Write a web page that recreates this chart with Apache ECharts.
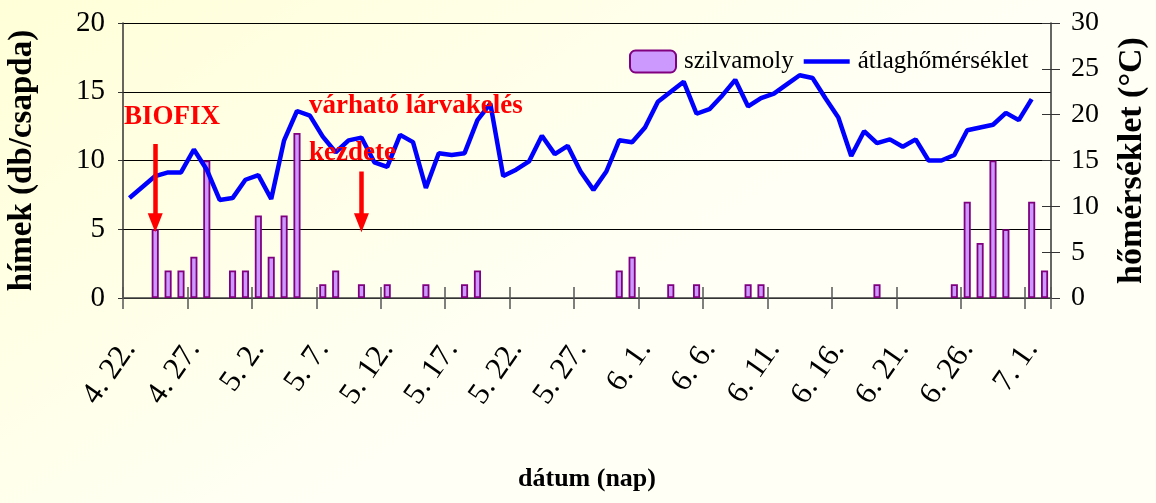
<!DOCTYPE html>
<html><head><meta charset="utf-8">
<script src="https://cdn.jsdelivr.net/npm/echarts@6/dist/echarts.min.js"></script>
<style>html,body{margin:0;padding:0;background:#fff;}#c{width:1156px;height:503px;}</style>
</head><body><div id="c"></div>
<script>
const categories = [
 "4. 22.","4. 23.","4. 24.","4. 25.","4. 26.","4. 27.","4. 28.","4. 29.","4. 30.",
 "5. 1.","5. 2.","5. 3.","5. 4.","5. 5.","5. 6.","5. 7.","5. 8.","5. 9.","5. 10.",
 "5. 11.","5. 12.","5. 13.","5. 14.","5. 15.","5. 16.","5. 17.","5. 18.","5. 19.","5. 20.",
 "5. 21.","5. 22.","5. 23.","5. 24.","5. 25.","5. 26.","5. 27.","5. 28.","5. 29.","5. 30.","5. 31.",
 "6. 1.","6. 2.","6. 3.","6. 4.","6. 5.","6. 6.","6. 7.","6. 8.","6. 9.","6. 10.",
 "6. 11.","6. 12.","6. 13.","6. 14.","6. 15.","6. 16.","6. 17.","6. 18.","6. 19.","6. 20.",
 "6. 21.","6. 22.","6. 23.","6. 24.","6. 25.","6. 26.","6. 27.","6. 28.","6. 29.","6. 30.",
 "7. 1.","7. 2."
];
const males = [
 0,0,5,2,2,3,10,0,2,2,
 6,3,6,12,0,1,2,0,1,0,
 1,0,0,1,0,0,1,2,0,0,
 0,0,0,0,0,0,0,0,2,3,
 0,0,1,0,1,0,0,0,1,1,
 0,0,0,0,0,0,0,0,1,0,
 0,0,0,0,1,7,4,10,5,0,
 7,2
];
const temperature = [
 10.9,12.1,13.3,13.7,13.7,16.2,14.0,10.7,10.9,12.9,
 13.4,10.8,17.2,20.4,19.9,17.6,15.9,17.2,17.5,14.8,
 14.3,17.8,17.0,12.0,15.8,15.6,15.8,19.4,21.2,13.3,
 14.0,14.9,17.7,15.7,16.6,13.8,11.8,13.8,17.2,17.0,
 18.6,21.4,22.5,23.6,20.1,20.6,22.1,23.8,20.9,21.8,
 22.3,23.3,24.3,24.0,21.8,19.7,15.5,18.2,16.9,17.3,
 16.5,17.3,15.0,15.0,15.6,18.3,18.6,18.9,20.2,19.4,
 21.7,null
];
const seriesNames = ["szilvamoly","átlaghőmérséklet"];
const biofixIndex = 2;
const larvaIndex = 18;

const F = "'Liberation Serif','Times New Roman',serif";
const chart = echarts.init(document.getElementById('c'), null, {renderer:'canvas'});
const barData = males.map(v => v === 0 ? {value:0, itemStyle:{borderWidth:0, opacity:0}} : v);

chart.setOption({
  animation:false,
  backgroundColor:{type:'linear',x:0,y:0,x2:0.3,y2:1,colorStops:[{offset:0,color:'#FFFFD8'},{offset:1,color:'#FFFFF6'}]},
  grid:{left:123, right:105, top:23, bottom:205, containLabel:false, outerBoundsMode:'none'},
  legend:{
    data:[{name:seriesNames[0]},{name:seriesNames[1], icon:'path://M0 0H48V4.5H0Z'}],
    left:629, top:49, padding:0, itemWidth:46, itemHeight:22, itemGap:10,
    textStyle:{fontFamily:F, fontSize:25, color:'#000', padding:[0,0,0,3]}
  },
  xAxis:[{
    type:'category', data:categories, position:'bottom', boundaryGap:true,
    axisLine:{lineStyle:{color:'#444', width:1.5}},
    axisTick:{show:true, interval:4, length:11, lineStyle:{color:'#555', width:1.5}},
    axisLabel:{interval:4, rotate:55, margin:46, fontFamily:F, fontSize:31, color:'#000'},
    splitLine:{show:false},
    name:'dátum (nap)', nameLocation:'middle', nameGap:168,
    nameTextStyle:{fontFamily:F, fontSize:26, fontWeight:'bold', color:'#000'}
  },{
    type:'category', data:categories, position:'bottom', boundaryGap:true,
    axisLine:{show:false},
    axisTick:{show:true, inside:true, interval:4, length:11, lineStyle:{color:'#555', width:1.5}},
    axisLabel:{show:false}, splitLine:{show:false}
  }],
  yAxis:[{
    type:'value', min:0, max:20, interval:5, position:'left',
    axisLine:{show:true, lineStyle:{color:'#333', width:1.5}},
    axisTick:{show:true, length:5, lineStyle:{color:'#333'}},
    axisLabel:{fontFamily:F, fontSize:29, color:'#000', margin:18},
    splitLine:{show:true, lineStyle:{color:'#000', width:1}},
    name:'hímek (db/csapda)', nameLocation:'middle', nameGap:84, nameRotate:90,
    nameTextStyle:{fontFamily:F, fontSize:33, fontWeight:'bold', color:'#000'}
  },{
    type:'value', min:0, max:30, interval:5, position:'right',
    axisLine:{show:true, lineStyle:{color:'#333', width:1.5}},
    axisTick:{show:true, length:9, lineStyle:{color:'#333'}},
    axisLabel:{fontFamily:F, fontSize:28, color:'#000', margin:20},
    splitLine:{show:false},
    name:'hőmérséklet (°C)', nameLocation:'middle', nameGap:64, nameRotate:90,
    nameTextStyle:{fontFamily:F, fontSize:34, fontWeight:'bold', color:'#000'}
  },{
    type:'value', min:0, max:30, interval:5, position:'right',
    axisLine:{show:false},
    axisTick:{show:true, inside:true, length:9, lineStyle:{color:'#333'}},
    axisLabel:{show:false}, splitLine:{show:false}
  }],
  series:[{
    name:seriesNames[0], type:'bar', xAxisIndex:0, yAxisIndex:0, data:barData,
    barWidth:'55%',
    itemStyle:{color:'#CC99FF', borderColor:'#800080', borderWidth:1.8}
  },{
    name:seriesNames[1], type:'line', xAxisIndex:0, yAxisIndex:1, data:temperature,
    symbol:'none', showSymbol:false, connectNulls:false,
    lineStyle:{color:'#0000FF', width:4.5}, itemStyle:{color:'#0000FF'},
    z:3,
    markLine:{
      silent:true, symbol:['none','triangle'], symbolSize:[15,19],
      label:{show:false},
      lineStyle:{color:'#FF0000', width:4.5, type:'solid'},
      emphasis:{disabled:true},
      data:[
        [{coord:[biofixIndex, 16.8]},{coord:[biofixIndex, 8.2]}],
        [{coord:[larvaIndex, 13.8]},{coord:[larvaIndex, 8.2]}]
      ]
    }
  }],
  graphic:[
    {type:'text', left:124, top:104, z:100, style:{text:'BIOFIX', font:"bold 27px "+F, fill:'#FF0000'}},
    {type:'text', left:309, top:93, z:100, style:{text:'várható lárvakelés', font:"bold 27px "+F, fill:'#FF0000'}},
    {type:'text', left:309, top:140, z:100, style:{text:'kezdete', font:"bold 27px "+F, fill:'#FF0000'}}
  ]
});
</script></body></html>
